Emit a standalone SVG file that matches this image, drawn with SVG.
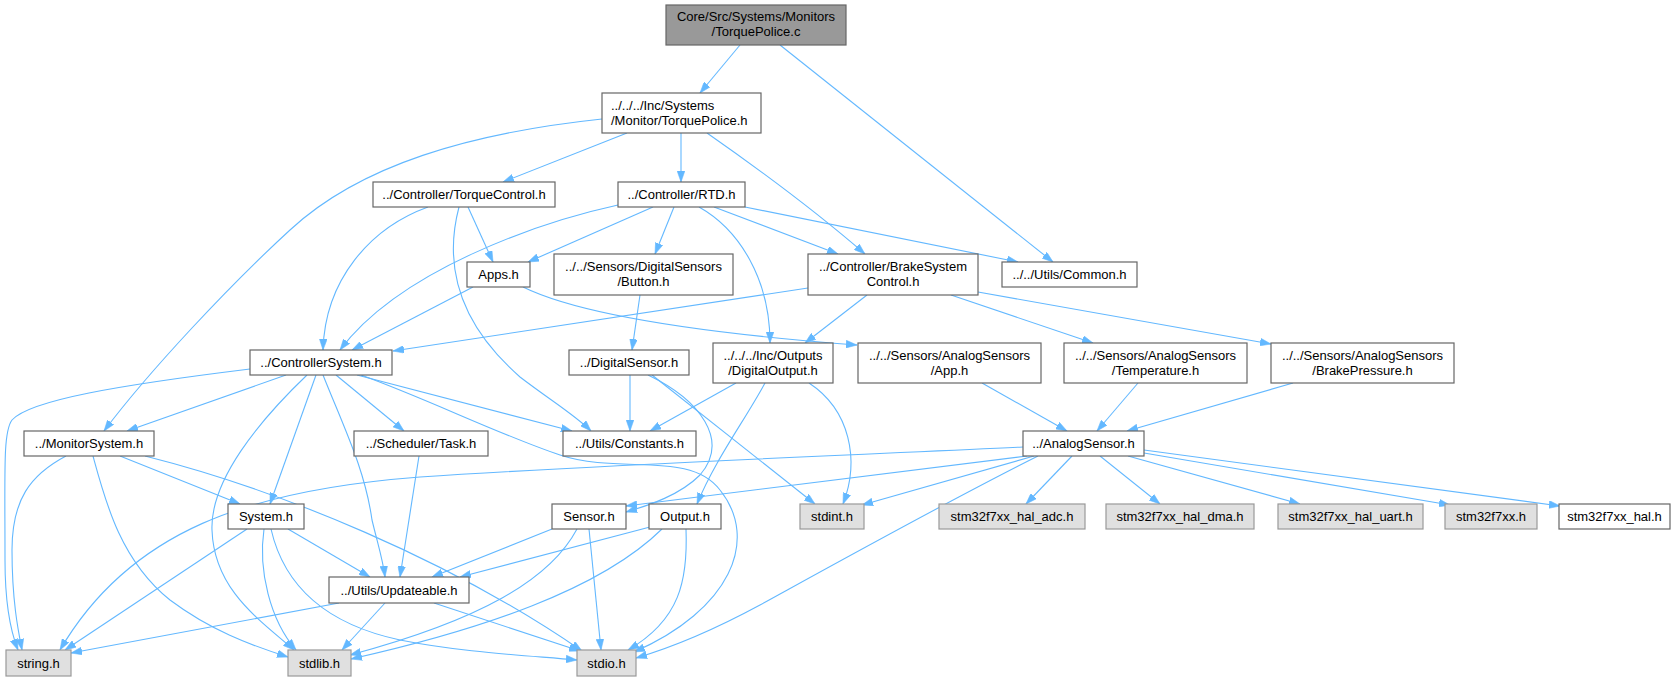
<svg xmlns="http://www.w3.org/2000/svg" width="1680" height="681" viewBox="0 0 1680 681">
<defs>
<marker id="arr" viewBox="0 0 10 7" refX="10" refY="3.5" markerUnits="userSpaceOnUse" markerWidth="11" markerHeight="8" orient="auto">
<path d="M0,0 L10,3.5 L0,7 z" fill="#63b8ff" stroke="#63b8ff" stroke-width="0.5"/>
</marker>
</defs>
<style>
.e{fill:none;stroke:#63b8ff;stroke-width:1.1;marker-end:url(#arr)}
.n rect{fill:#ffffff;stroke:#666666;stroke-width:1.2}
.root rect{fill:#999999;stroke:#666666;stroke-width:1.2}
.g rect{fill:#e0e0e0;stroke:#999999;stroke-width:1.2}
text{font-family:"Liberation Sans",Arial,Helvetica,sans-serif;font-size:13px;fill:#000000;text-anchor:middle}
</style>
<rect width="1680" height="681" fill="#ffffff"/>
<g id="edges">
<path class="e" d="M740,45 L700,93"/>
<path class="e" d="M780,45 L1053,262"/>
<path class="e" d="M602,119 C470,133 360,165 290,230 C230,285 150,370 104,431"/>
<path class="e" d="M627,133 L503,182"/>
<path class="e" d="M681,133 L681,182"/>
<path class="e" d="M707,133 C760,170 820,215 865,254"/>
<path class="e" d="M428,207 C370,228 325,280 323,350"/>
<path class="e" d="M468,207 L493,262"/>
<path class="e" d="M459,207 C445,260 455,320 520,377 C550,400 575,415 591,431"/>
<path class="e" d="M618,205 C540,222 400,270 340,350"/>
<path class="e" d="M653,207 L528,262"/>
<path class="e" d="M674,207 L655,254"/>
<path class="e" d="M699,207 C740,230 770,280 770,343"/>
<path class="e" d="M714,207 L838,254"/>
<path class="e" d="M745,207 L1018,262"/>
<path class="e" d="M473,287 L352,350"/>
<path class="e" d="M523,287 C580,315 700,333 857,345"/>
<path class="e" d="M640,295 L632,350"/>
<path class="e" d="M808,288 L393,351"/>
<path class="e" d="M867,295 L805,343"/>
<path class="e" d="M951,295 L1093,343"/>
<path class="e" d="M978,292 L1271,344"/>
<path class="e" d="M286,375 L127,431"/>
<path class="e" d="M250,369 C120,385 30,400 12,420 C3,432 5,470 5,560 C5,610 12,635 18,650"/>
<path class="e" d="M307,375 C260,420 210,480 212,530 C214,590 260,620 294,650"/>
<path class="e" d="M316,375 L270,504"/>
<path class="e" d="M323,375 C345,430 365,470 372,520 C378,545 383,560 385,577"/>
<path class="e" d="M336,375 L404,431"/>
<path class="e" d="M357,375 L572,431"/>
<path class="e" d="M361,375 C430,400 500,435 560,455 C620,475 690,450 720,490 C760,540 730,610 634,652"/>
<path class="e" d="M630,375 L630,431"/>
<path class="e" d="M648,375 C700,400 730,440 700,475 C680,495 650,505 626,512"/>
<path class="e" d="M652,375 L815,504"/>
<path class="e" d="M736,383 L650,431"/>
<path class="e" d="M765,383 C745,420 715,460 697,504"/>
<path class="e" d="M809,383 C850,410 860,460 843,504"/>
<path class="e" d="M982,383 L1067,431"/>
<path class="e" d="M1138,383 L1097,431"/>
<path class="e" d="M1293,383 L1127,431"/>
<path class="e" d="M66,456 C30,475 12,500 12,550 C12,600 18,630 22,650"/>
<path class="e" d="M93,456 C105,500 120,560 170,600 C210,630 250,645 288,657"/>
<path class="e" d="M120,456 L240,504"/>
<path class="e" d="M145,456 C280,490 450,560 582,651"/>
<path class="e" d="M419,456 L400,577"/>
<path class="e" d="M1023,447 C850,455 600,465 420,477 C250,490 130,530 60,650"/>
<path class="e" d="M1027,456 L626,506"/>
<path class="e" d="M1034,456 L862,505"/>
<path class="e" d="M1038,456 C950,500 860,550 760,605 C710,632 670,648 636,658"/>
<path class="e" d="M1072,456 L1026,504"/>
<path class="e" d="M1100,456 L1160,504"/>
<path class="e" d="M1128,456 L1300,504"/>
<path class="e" d="M1144,453 L1450,505"/>
<path class="e" d="M1144,450 L1560,506"/>
<path class="e" d="M247,529 L65,650"/>
<path class="e" d="M264,529 C258,570 270,620 296,650"/>
<path class="e" d="M288,529 L370,577"/>
<path class="e" d="M271,529 C285,590 330,625 400,640 C460,652 520,655 577,660"/>
<path class="e" d="M552,529 L432,577"/>
<path class="e" d="M577,529 C550,580 480,620 350,655"/>
<path class="e" d="M589,529 L601,650"/>
<path class="e" d="M650,527 L460,577"/>
<path class="e" d="M662,529 C600,590 480,630 351,659"/>
<path class="e" d="M686,529 C688,580 680,620 628,650"/>
<path class="e" d="M339,603 L71,653"/>
<path class="e" d="M385,603 L342,650"/>
<path class="e" d="M434,603 L580,651"/>
</g>
<g id="n-torquepolice-c" class="root"><rect x="666" y="5" width="180" height="40"/><text x="756" y="21">Core/Src/Systems/Monitors</text><text x="756" y="36">/TorquePolice.c</text></g>
<g id="n-torquepolice-h" class="n"><rect x="602" y="93" width="159" height="40"/><text x="611" y="110" style="text-anchor:start">../../../Inc/Systems</text><text x="611" y="125" style="text-anchor:start">/Monitor/TorquePolice.h</text></g>
<g id="n-torquecontrol" class="n"><rect x="373" y="182" width="182" height="25"/><text x="464" y="199">../Controller/TorqueControl.h</text></g>
<g id="n-rtd" class="n"><rect x="618" y="182" width="127" height="25"/><text x="681.5" y="199">../Controller/RTD.h</text></g>
<g id="n-apps" class="n"><rect x="467" y="262" width="63" height="25"/><text x="498.5" y="279">Apps.h</text></g>
<g id="n-button" class="n"><rect x="554" y="254" width="179" height="41"/><text x="643.5" y="271">../../Sensors/DigitalSensors</text><text x="643.5" y="286">/Button.h</text></g>
<g id="n-brakesystem" class="n"><rect x="808" y="254" width="170" height="41"/><text x="893" y="271">../Controller/BrakeSystem</text><text x="893" y="286">Control.h</text></g>
<g id="n-common" class="n"><rect x="1002" y="262" width="135" height="25"/><text x="1069.5" y="279">../../Utils/Common.h</text></g>
<g id="n-controllersystem" class="n"><rect x="250" y="350" width="142" height="25"/><text x="321" y="367">../ControllerSystem.h</text></g>
<g id="n-digitalsensor" class="n"><rect x="569" y="350" width="120" height="25"/><text x="629" y="367">../DigitalSensor.h</text></g>
<g id="n-digitaloutput" class="n"><rect x="713" y="343" width="120" height="40"/><text x="773" y="360">../../../Inc/Outputs</text><text x="773" y="375">/DigitalOutput.h</text></g>
<g id="n-app" class="n"><rect x="858" y="343" width="183" height="40"/><text x="949.5" y="360">../../Sensors/AnalogSensors</text><text x="949.5" y="375">/App.h</text></g>
<g id="n-temperature" class="n"><rect x="1064" y="343" width="183" height="40"/><text x="1155.5" y="360">../../Sensors/AnalogSensors</text><text x="1155.5" y="375">/Temperature.h</text></g>
<g id="n-brakepressure" class="n"><rect x="1271" y="343" width="183" height="40"/><text x="1362.5" y="360">../../Sensors/AnalogSensors</text><text x="1362.5" y="375">/BrakePressure.h</text></g>
<g id="n-monitorsystem" class="n"><rect x="24" y="431" width="130" height="25"/><text x="89" y="448">../MonitorSystem.h</text></g>
<g id="n-task" class="n"><rect x="354" y="431" width="134" height="25"/><text x="421" y="448">../Scheduler/Task.h</text></g>
<g id="n-constants" class="n"><rect x="563" y="431" width="133" height="25"/><text x="629.5" y="448">../Utils/Constants.h</text></g>
<g id="n-analogsensor" class="n"><rect x="1023" y="431" width="121" height="25"/><text x="1083.5" y="448">../AnalogSensor.h</text></g>
<g id="n-system" class="n"><rect x="228" y="504" width="76" height="25"/><text x="266" y="521">System.h</text></g>
<g id="n-sensor" class="n"><rect x="552" y="504" width="74" height="25"/><text x="589" y="521">Sensor.h</text></g>
<g id="n-output" class="n"><rect x="649" y="504" width="72" height="25"/><text x="685" y="521">Output.h</text></g>
<g id="n-stdint" class="g"><rect x="800" y="504" width="64" height="25"/><text x="832" y="521">stdint.h</text></g>
<g id="n-hal-adc" class="g"><rect x="939" y="504" width="146" height="25"/><text x="1012" y="521">stm32f7xx_hal_adc.h</text></g>
<g id="n-hal-dma" class="g"><rect x="1106" y="504" width="148" height="25"/><text x="1180" y="521">stm32f7xx_hal_dma.h</text></g>
<g id="n-hal-uart" class="g"><rect x="1278" y="504" width="145" height="25"/><text x="1350.5" y="521">stm32f7xx_hal_uart.h</text></g>
<g id="n-stm32f7xx" class="g"><rect x="1445" y="504" width="92" height="25"/><text x="1491" y="521">stm32f7xx.h</text></g>
<g id="n-hal" class="n"><rect x="1559" y="504" width="111" height="25"/><text x="1614.5" y="521">stm32f7xx_hal.h</text></g>
<g id="n-updateable" class="n"><rect x="329" y="577" width="140" height="26"/><text x="399" y="595">../Utils/Updateable.h</text></g>
<g id="n-string" class="g"><rect x="6" y="650" width="65" height="26"/><text x="38.5" y="668">string.h</text></g>
<g id="n-stdlib" class="g"><rect x="288" y="650" width="63" height="26"/><text x="319.5" y="668">stdlib.h</text></g>
<g id="n-stdio" class="g"><rect x="577" y="650" width="59" height="26"/><text x="606.5" y="668">stdio.h</text></g>
</svg>
